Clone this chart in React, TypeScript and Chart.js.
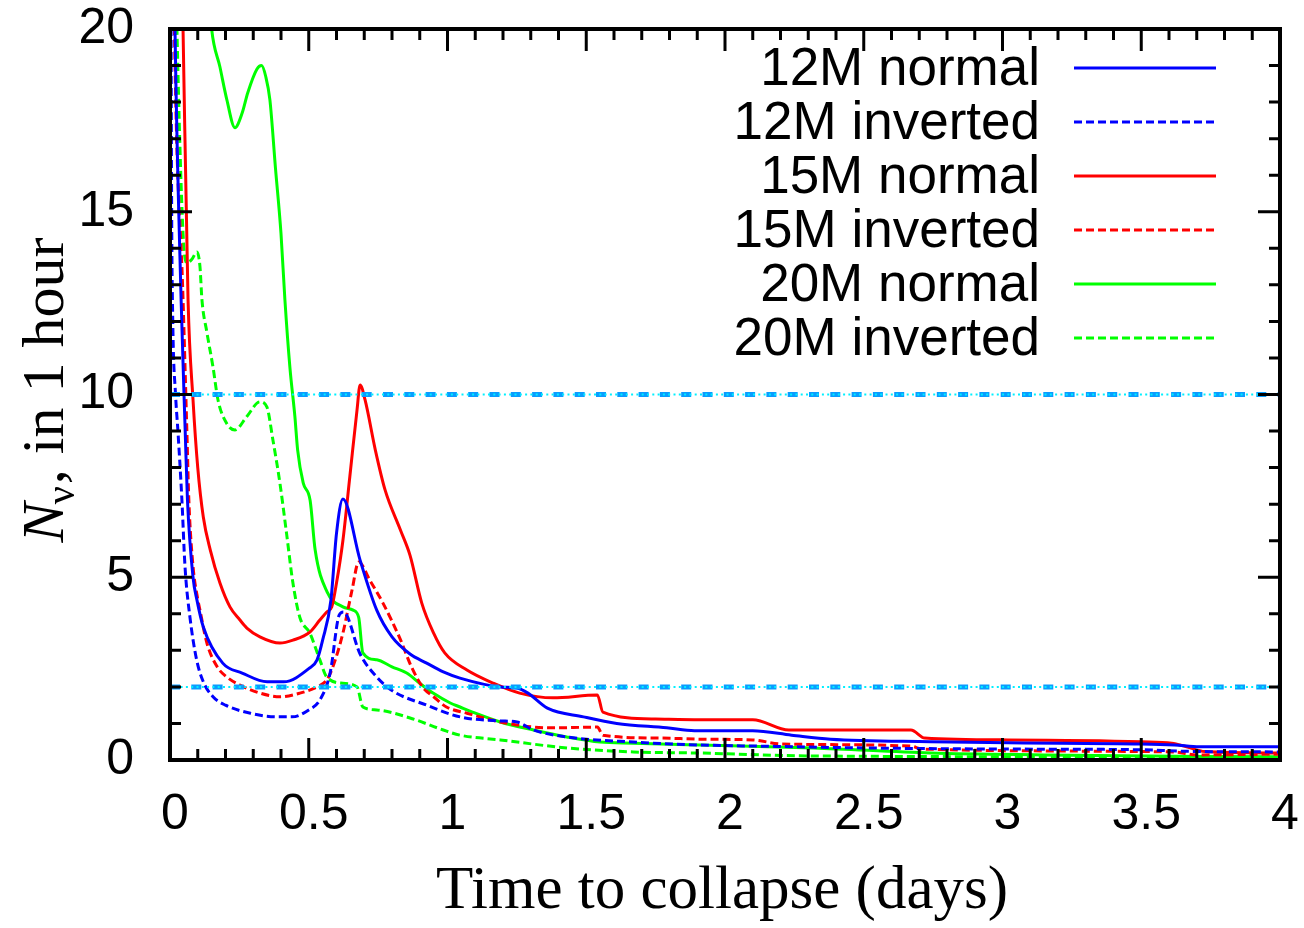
import React, { useEffect, useRef } from "react";
import { Chart, registerables } from "chart.js";

Chart.register(...registerables);

// ---- Data ----
// 12M normal
const t12n = [0.012, 0.018, 0.04, 0.055, 0.063, 0.083, 0.097, 0.12, 0.19, 0.26, 0.35, 0.41, 0.5, 0.53, 0.55, 0.58, 0.6, 0.623, 0.685, 0.745, 0.8, 0.865, 0.925, 0.985, 1.045, 1.19, 1.25, 1.29, 1.36, 1.49, 1.61, 1.79, 1.89, 2.1, 2.24, 2.38, 2.74, 3.02, 3.5, 3.62, 3.71, 4.0];
const n12n = [24, 20, 12.6, 8.95, 7.1, 5.0, 4.38, 3.64, 2.65, 2.38, 2.14, 2.14, 2.5, 2.74, 3.28, 4.38, 6.2, 7.14, 5.47, 4.1, 3.37, 2.9, 2.65, 2.41, 2.24, 2.0, 1.97, 1.83, 1.42, 1.18, 1.0, 0.88, 0.8, 0.8, 0.68, 0.57, 0.5, 0.47, 0.44, 0.41, 0.36, 0.36];
// 12M inverted
const t12i = [0.003, 0.006, 0.01, 0.02, 0.029, 0.043, 0.054, 0.072, 0.096, 0.12, 0.155, 0.2, 0.29, 0.385, 0.44, 0.5, 0.54, 0.577, 0.61, 0.625, 0.685, 0.745, 0.8, 0.925, 1.045, 1.19, 1.25, 1.31, 1.43, 1.67, 1.91, 2.2, 2.5, 3.0, 3.5, 3.65, 4.0];
const n12i = [22, 15, 12.0, 10.0, 8.95, 7.1, 5.3, 3.9, 2.74, 2.14, 1.73, 1.5, 1.28, 1.18, 1.18, 1.37, 1.64, 2.38, 3.97, 4.05, 2.9, 2.27, 1.9, 1.5, 1.18, 1.07, 1.04, 0.82, 0.63, 0.49, 0.41, 0.37, 0.33, 0.3, 0.28, 0.24, 0.22];
// 15M normal
const t15n = [0.04, 0.047, 0.065, 0.083, 0.1, 0.12, 0.145, 0.18, 0.216, 0.252, 0.277, 0.324, 0.396, 0.443, 0.504, 0.54, 0.565, 0.583, 0.6, 0.623, 0.648, 0.674, 0.685, 0.703, 0.74, 0.775, 0.83, 0.865, 0.907, 0.95, 0.99, 1.07, 1.165, 1.26, 1.38, 1.54, 1.56, 1.75, 1.91, 2.1, 2.23, 2.67, 2.72, 3.02, 3.5, 3.61, 3.66, 3.73, 4.0];
const n15n = [23, 20, 12.6, 9.85, 8.0, 6.65, 5.75, 4.84, 4.19, 3.83, 3.61, 3.37, 3.2, 3.28, 3.5, 3.83, 4.05, 4.19, 4.84, 6.0, 7.75, 9.58, 10.26, 9.85, 8.48, 7.39, 6.3, 5.6, 4.3, 3.47, 2.93, 2.46, 2.1, 1.83, 1.7, 1.78, 1.31, 1.12, 1.1, 1.1, 0.82, 0.82, 0.6, 0.55, 0.5, 0.46, 0.37, 0.23, 0.19];
// 15M inverted
const t15i = [0.012, 0.016, 0.047, 0.061, 0.068, 0.083, 0.1, 0.108, 0.133, 0.17, 0.205, 0.252, 0.324, 0.396, 0.468, 0.53, 0.565, 0.587, 0.623, 0.656, 0.68, 0.72, 0.767, 0.83, 0.87, 0.91, 0.95, 0.996, 1.07, 1.19, 1.31, 1.38, 1.54, 1.56, 1.77, 1.91, 2.1, 2.2, 2.67, 2.71, 3.62, 3.7, 4.0];
const n15i = [23, 20, 12.6, 8.95, 7.1, 5.3, 4.4, 4.1, 3.2, 2.55, 2.27, 2.05, 1.83, 1.73, 1.83, 2.0, 2.19, 2.55, 3.47, 4.65, 5.42, 4.92, 4.3, 3.3, 2.55, 2.0, 1.73, 1.45, 1.28, 1.04, 0.9, 0.88, 0.9, 0.68, 0.6, 0.57, 0.55, 0.44, 0.38, 0.3, 0.22, 0.14, 0.16];
// 20M normal
const t20n = [0.1, 0.13, 0.15, 0.18, 0.205, 0.234, 0.26, 0.28, 0.313, 0.33, 0.345, 0.36, 0.38, 0.4, 0.414, 0.432, 0.45, 0.46, 0.48, 0.505, 0.523, 0.566, 0.623, 0.66, 0.68, 0.695, 0.745, 0.8, 0.853, 0.9, 0.948, 1.01, 1.045, 1.09, 1.19, 1.31, 1.43, 1.55, 1.67, 1.91, 2.32, 2.74, 3.15, 4.0];
const n20n = [25, 22, 20, 18.96, 18.06, 17.3, 17.7, 18.25, 18.9, 19.0, 18.7, 18.06, 16.2, 14.4, 12.6, 10.75, 9.4, 8.48, 7.58, 7.1, 5.75, 4.6, 4.19, 4.1, 3.9, 2.93, 2.74, 2.55, 2.38, 2.1, 1.83, 1.56, 1.45, 1.31, 1.04, 0.82, 0.63, 0.49, 0.46, 0.41, 0.33, 0.19, 0.14, 0.08];
// 20M inverted
const t20i = [0.015, 0.025, 0.047, 0.061, 0.079, 0.097, 0.108, 0.115, 0.133, 0.155, 0.173, 0.205, 0.234, 0.277, 0.324, 0.349, 0.371, 0.396, 0.42, 0.443, 0.468, 0.504, 0.54, 0.565, 0.623, 0.674, 0.695, 0.745, 0.865, 0.985, 1.045, 1.19, 1.43, 1.67, 1.91, 2.32, 4.0];
const n20i = [24, 20, 14.4, 13.6, 13.7, 13.9, 13.5, 12.6, 11.7, 10.75, 9.85, 9.2, 9.03, 9.4, 9.8, 9.66, 8.75, 7.58, 6.2, 4.84, 3.9, 3.47, 2.74, 2.27, 2.1, 2.0, 1.45, 1.37, 1.15, 0.82, 0.68, 0.55, 0.33, 0.22, 0.19, 0.11, 0.08];

const seriesNames = ["12M normal", "12M inverted", "15M normal", "15M inverted", "20M normal", "20M inverted"];
const seriesTimes = [t12n, t12i, t15n, t15i, t20n, t20i];
const seriesCounts = [n12n, n12i, n15n, n15i, n20n, n20i];
const seriesColors = ["#0000ff", "#0000ff", "#ff0000", "#ff0000", "#00ff00", "#00ff00"];
const seriesDashed = [false, true, false, true, false, true];

const refLevels = [10, 2];
const xRange = [0, 4];
const yRange = [0, 20];

const SANS = "'Liberation Sans', Arial, sans-serif";
const SERIF = "'Liberation Serif', 'Times New Roman', serif";

const framePlugin = {
  id: "frameTicks",
  afterDatasetsDraw(chart: any) {
    const { ctx, chartArea: a, scales } = chart;
    const x = scales.x;
    const y = scales.y;
    ctx.save();
    ctx.strokeStyle = "#000";
    ctx.lineWidth = 3;
    ctx.beginPath();
    for (let i = 0; i <= 40; i++) {
      const px = x.getPixelForValue(i * 0.1);
      const len = i % 5 === 0 ? 22 : 11;
      ctx.moveTo(px, a.bottom);
      ctx.lineTo(px, a.bottom - len);
      ctx.moveTo(px, a.top);
      ctx.lineTo(px, a.top + len);
    }
    for (let v = 0; v <= 20; v++) {
      const py = y.getPixelForValue(v);
      const len = v % 5 === 0 ? 22 : 11;
      ctx.moveTo(a.left, py);
      ctx.lineTo(a.left + len, py);
      ctx.moveTo(a.right, py);
      ctx.lineTo(a.right - len, py);
    }
    ctx.stroke();
    ctx.lineWidth = 4;
    ctx.strokeRect(a.left, a.top, a.right - a.left, a.bottom - a.top);
    ctx.restore();
  },
  afterDraw(chart: any) {
    const { ctx, chartArea: a } = chart;
    ctx.save();
    // Legend
    ctx.font = `53px ${SANS}`;
    ctx.textAlign = "right";
    ctx.textBaseline = "middle";
    ctx.fillStyle = "#000";
    for (let i = 0; i < seriesNames.length; i++) {
      const ry = a.top + 39 + i * 54;
      ctx.fillText(seriesNames[i], a.right - 240, ry + 2);
      ctx.beginPath();
      ctx.strokeStyle = seriesColors[i];
      ctx.lineWidth = 3;
      ctx.setLineDash(seriesDashed[i] ? [8, 4] : []);
      ctx.moveTo(a.right - 206, ry);
      ctx.lineTo(a.right - 64, ry);
      ctx.stroke();
    }
    ctx.setLineDash([]);
    // X title
    ctx.font = `61px ${SERIF}`;
    ctx.textAlign = "center";
    ctx.textBaseline = "alphabetic";
    ctx.fillText("Time to collapse (days)", (a.left + a.right) / 2 - 3, 908);
    // Y title
    const cy = 390;
    ctx.translate(63, cy);
    ctx.rotate(-Math.PI / 2);
    const f1 = `italic 60px ${SERIF}`;
    const f2 = `40px ${SERIF}`;
    const f3 = `60px ${SERIF}`;
    ctx.font = f1;
    const w1 = ctx.measureText("N").width;
    ctx.font = f2;
    const w2 = ctx.measureText("ν").width;
    ctx.font = f3;
    const w3 = ctx.measureText(", in 1 hour").width;
    let sx = -(w1 + w2 + w3) / 2;
    ctx.textAlign = "left";
    ctx.font = f1;
    ctx.fillText("N", sx, 0);
    sx += w1 - 2;
    ctx.font = f2;
    ctx.fillText("ν", sx, 11);
    sx += w2 + 2;
    ctx.font = f3;
    ctx.fillText(", in 1 hour", sx, 0);
    ctx.restore();
  },
};

export default function App() {
  const ref = useRef<HTMLCanvasElement | null>(null);
  useEffect(() => {
    document.body.style.margin = "0";
    const canvas = ref.current;
    if (!canvas) return;
    const datasets: any[] = seriesNames.map((name, i) => ({
      label: name,
      data: seriesTimes[i].map((t, j) => ({ x: t, y: seriesCounts[i][j] })),
      borderColor: seriesColors[i],
      borderWidth: 3,
      borderDash: seriesDashed[i] ? [8, 4] : [],
      pointRadius: 0,
      fill: false,
      cubicInterpolationMode: "monotone",
      clip: 0,
      order: 0,
    }));
    refLevels.forEach((lv) => {
      datasets.push({
        label: "ref dash " + lv,
        data: [{ x: xRange[0], y: lv }, { x: xRange[1], y: lv }],
        borderColor: "#0a9cff",
        borderWidth: 5,
        borderDash: [10, 11.3],
        pointRadius: 0,
        fill: false,
        clip: 0,
        order: -2,
      });
      datasets.push({
        label: "ref dot " + lv,
        data: [{ x: xRange[0], y: lv }, { x: xRange[1], y: lv }],
        borderColor: "#00f0ff",
        borderWidth: 2,
        borderDash: [2, 3.3],
        pointRadius: 0,
        fill: false,
        clip: 0,
        order: -3,
      });
    });
    const chart = new Chart(canvas, {
      type: "line",
      data: { datasets },
      options: {
        animation: false,
        responsive: false,
        devicePixelRatio: 1,
        layout: { padding: { top: 29, right: 24, left: 0, bottom: 0 } },
        plugins: { legend: { display: false }, tooltip: { enabled: false } },
        scales: {
          x: {
            type: "linear",
            min: xRange[0],
            max: xRange[1],
            afterFit: (s: any) => {
              s.height = 168;
              s.paddingLeft = 0;
              s.paddingRight = 0;
            },
            grid: { display: false, drawTicks: false, tickLength: 0 },
            border: { display: false },
            ticks: {
              stepSize: 0.5,
              autoSkip: false,
              maxRotation: 0,
              minRotation: 0,
              padding: 30,
              labelOffset: 5,
              color: "#000",
              font: { family: SANS, size: 50, lineHeight: 1 },
              callback: (v: any) => String(v),
            },
          },
          y: {
            type: "linear",
            min: yRange[0],
            max: yRange[1],
            afterFit: (s: any) => {
              s.width = 170;
              s.paddingTop = 0;
              s.paddingBottom = 0;
            },
            grid: { display: false, drawTicks: false, tickLength: 0 },
            border: { display: false },
            ticks: {
              stepSize: 5,
              autoSkip: false,
              padding: 36,
              color: "#000",
              font: { family: SANS, size: 50, lineHeight: 1 },
              callback: (v: any) => String(v),
            },
          },
        },
      },
      plugins: [framePlugin],
    });
    return () => chart.destroy();
  }, []);
  return <canvas ref={ref} width={1304} height={928} style={{ display: "block" }} />;
}
